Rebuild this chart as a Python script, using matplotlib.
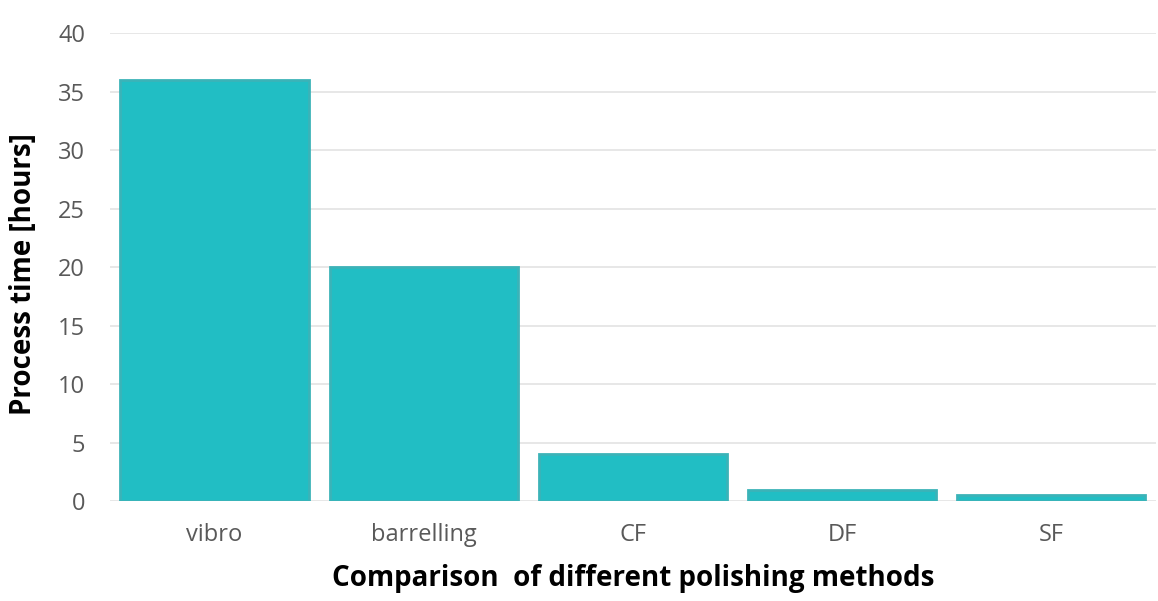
import matplotlib.pyplot as plt

methods = ['vibro', 'barrelling', 'CF', 'DF', 'SF']
hours = [36, 20, 4, 1, 0.5]

plt.rcParams['font.family'] = ['Open Sans', 'DejaVu Sans']

fig = plt.figure(figsize=(11.58, 6.01), dpi=100)
ax = fig.add_axes([0.095, 0.166, 0.903, 0.779])

ax.bar(methods, hours, width=0.9, color='#21BEC4', edgecolor='#3BB3B8', linewidth=2, zorder=3)

ax.set_ylim(0, 40)
ax.set_xlim(-0.5, 4.5)
ax.set_yticks(range(0, 41, 5))
ax.grid(axis='y', color='#E3E3E3', linewidth=1.2, zorder=0)
for s in ax.spines.values():
    s.set_visible(False)
ax.tick_params(axis='both', length=0, labelsize=17, labelcolor='#595959')
ax.tick_params(axis='y', pad=18)
ax.tick_params(axis='x', pad=16)

ax.set_ylabel('Process time [hours]', fontsize=20, fontweight='bold')
ax.set_xlabel('Comparison  of different polishing methods', fontsize=20, fontweight='bold')
ax.yaxis.set_label_coords(-0.069, 0.485)
ax.xaxis.set_label_coords(0.5, -0.135)

fig.savefig('out.png', dpi=100)
